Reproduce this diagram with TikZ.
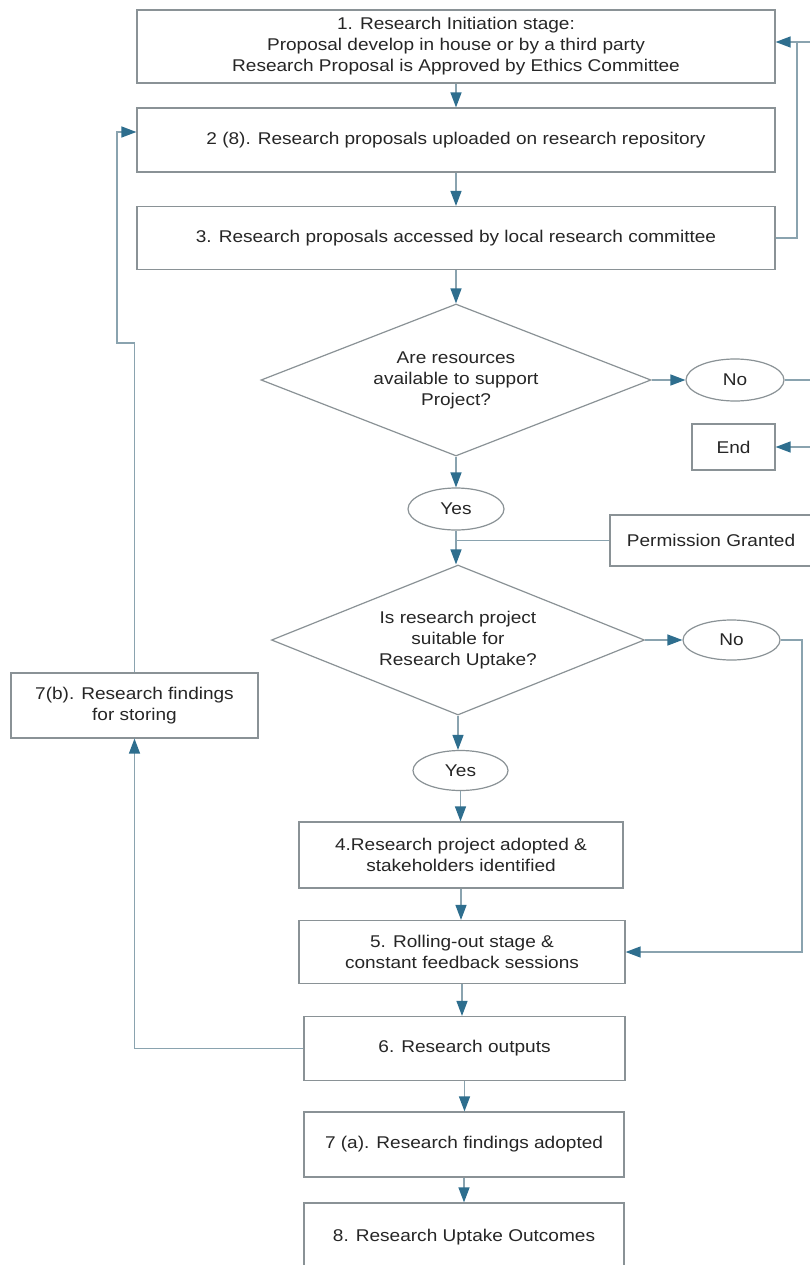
\documentclass[tikz,border=0pt]{standalone}
\usepackage{fontspec}
\setmainfont{Liberation Sans}[FakeStretch=1.12]
\usetikzlibrary{shapes.geometric,arrows.meta}
\definecolor{arrowc}{HTML}{2E6E8E}
\definecolor{linec}{HTML}{8AA3AF}
\definecolor{boxc}{HTML}{8A9296}
\tikzset{
  txt/.style={font=\fontsize{17}{21}\selectfont, align=center, text=black!85},
  box/.style={txt, draw=boxc, line width=1.2pt, fill=white, inner sep=2pt},
  dia/.style={txt, shape=diamond, draw=boxc, line width=1.2pt, fill=white, aspect=2.6, inner sep=0pt},
  ell/.style={txt, shape=ellipse, draw=boxc, line width=1.2pt, fill=white, inner sep=0pt},
  ln/.style={draw=linec, line width=1.3pt},
  arr/.style={ln, -{Triangle[length=15pt,width=11pt,color=arrowc]}}
}
\begin{document}
\begin{tikzpicture}[x=1pt,y=-1pt]
\useasboundingbox[fill=white] (0,0) rectangle (810,1265);

\node[box, minimum width=638pt, minimum height=73pt] (box1) at (456,46.5)
  {1. Research Initiation stage:\\Proposal develop in house or by a third party\\Research Proposal is Approved by Ethics Committee};
\node[box, minimum width=638pt, minimum height=64pt] (box2) at (456,140)
  {2 (8). Research proposals uploaded on research repository};
\node[box, minimum width=638pt, minimum height=63pt] (box3) at (456,238)
  {3. Research proposals accessed by local research committee};
\node[dia, minimum width=390pt, minimum height=152pt] (d1) at (456,380)
  {Are resources\\available to support\\Project?};
\node[ell, minimum width=98pt, minimum height=42pt] (no1) at (735,380) {No};
\node[box, minimum width=83pt, minimum height=46pt] (endb) at (733.5,447) {End};
\node[ell, minimum width=96pt, minimum height=42pt] (yes1) at (456,509) {Yes};
\node[box, minimum width=202pt, minimum height=51pt] (perm) at (711,540.5) {Permission Granted};
\node[dia, minimum width=373pt, minimum height=150pt] (d2) at (458,640)
  {Is research project\\suitable for\\Research Uptake?};
\node[ell, minimum width=97pt, minimum height=40pt] (no2) at (731.5,640) {No};
\node[ell, minimum width=95pt, minimum height=40pt] (yes2) at (460.5,770.5) {Yes};
\node[box, minimum width=324pt, minimum height=66pt] (box4) at (461,855)
  {4.Research project adopted \&\\stakeholders identified};
\node[box, minimum width=326pt, minimum height=63pt] (box5) at (462,952)
  {5. Rolling-out stage \&\\constant feedback sessions};
\node[box, minimum width=321pt, minimum height=64pt] (box6) at (464.5,1048.5)
  {6. Research outputs};
\node[box, minimum width=320pt, minimum height=65pt] (box7a) at (464,1144.5)
  {7 (a). Research findings adopted};
\node[box, minimum width=320pt, minimum height=68pt] (box8) at (464,1237)
  {8. Research Uptake Outcomes};
\node[box, minimum width=247pt, minimum height=65pt] (box7b) at (134.5,705.5)
  {7(b). Research findings\\for storing};

% helper coordinates
\coordinate (rt) at (797,42);
\coordinate (e1) at (812,42);
\coordinate (e2) at (812,380);
\coordinate (e3) at (812,447);
\coordinate (r2) at (802,640);
\coordinate (l2) at (117,343);
\coordinate (l3) at (117,132);

% main column
\draw[arr] (box1.south) -- (box1.south |- box2.north);
\draw[arr] (box2.south) -- (box2.south |- box3.north);
\draw[arr] (box3.south) -- (d1.north);
\draw[arr] (d1.south) -- (yes1.north);
\draw[arr] (yes1.south) -- (yes1.south |- d2.north);
\draw[ln] (perm.west) -- (perm.west -| yes1.south);
\draw[arr] (d2.south) -- (d2.south |- yes2.north);
\draw[arr] (yes2.south) -- (yes2.south |- box4.north);
\draw[arr] (box4.south) -- (box4.south |- box5.north);
\draw[arr] (box5.south) -- (box5.south |- box6.north);
\draw[arr] (box6.south) -- (box6.south |- box7a.north);
\draw[arr] (box7a.south) -- (box7a.south |- box8.north);

% right side
\draw[arr] (box3.east) -| (rt) -- (rt -| box1.east);
\draw[ln] (rt) -- (e1);
\draw[arr] (d1.east) -- (no1.west);
\draw[ln] (no1.east) -- (e2);
\draw[arr] (e3) -- (endb.east);
\draw[arr] (d2.east) -- (no2.west);
\draw[arr] (no2.east) -- (r2) |- (box5.east);

% left loop
\draw[arr] (box6.west) -| (box7b.south);
\draw[arr] (box7b.north) |- (l2) -- (l3) -- (l3 -| box2.west);
\end{tikzpicture}
\end{document}
